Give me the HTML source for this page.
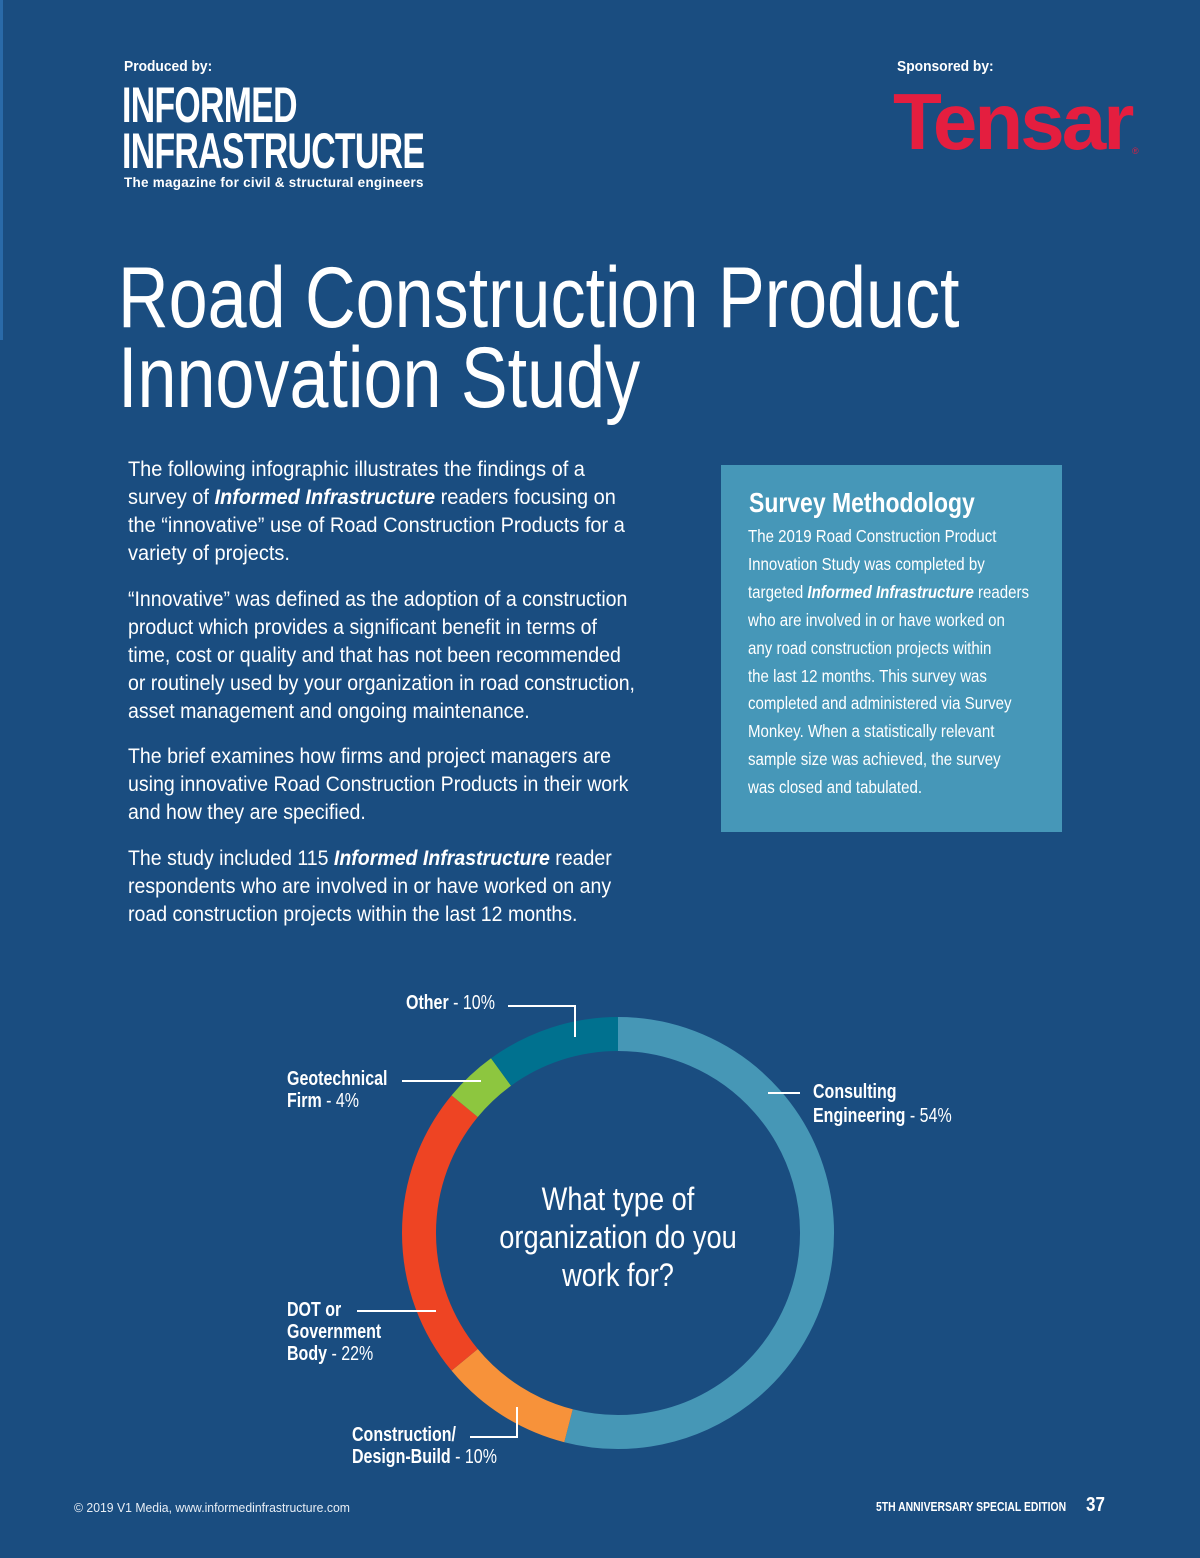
<!DOCTYPE html>
<html><head><meta charset="utf-8">
<style>
*{margin:0;padding:0;box-sizing:border-box}
body{width:1200px;height:1558px;background:#1a4d80;position:relative;overflow:hidden;color:#fff;font-family:"Liberation Sans Narrow","Liberation Sans",sans-serif}
.a{position:absolute;white-space:nowrap;transform-origin:left top}
.b{font-weight:bold}
.p{font-size:21px;line-height:28px;transform:scaleX(0.93)}
.lbl{font-size:20px;line-height:22px;transform:scaleX(0.8)}
.lbl b{font-weight:bold}
</style></head><body>
<div class="a" style="left:0;top:0;width:3px;height:340px;background:#2a6aa8"></div>
<div class="a b" style="left:124px;top:58px;font-size:15px;transform:scaleX(0.92)">Produced by:</div>
<div class="a b" style="left:122px;top:82px;font-size:50px;line-height:46px;letter-spacing:-1px;transform:scaleX(0.676)">INFORMED<br>INFRASTRUCTURE</div>
<div class="a b" style="left:124px;top:174px;font-size:14px;letter-spacing:0.3px;transform:scaleX(0.96)">The magazine for civil &amp; structural engineers</div>
<div class="a b" style="left:897px;top:58px;font-size:15px;transform:scaleX(0.92)">Sponsored by:</div>
<div class="a b" style="left:893px;top:80px;font-size:80px;line-height:84px;color:#e41e3f;letter-spacing:-3px;font-family:'Liberation Sans',sans-serif">Tensar</div>
<div class="a" style="left:1132px;top:146px;font-size:9px;color:#e41e3f">®</div>

<div class="a" style="left:118px;top:258px;font-size:86px;line-height:80px;transform:scaleX(0.815)">Road Construction Product<br>Innovation Study</div>

<div class="a p" style="left:128px;top:456px;transform:scaleX(0.95)">The following infographic illustrates the findings of a<br>survey of <b><i>Informed Infrastructure</i></b> readers focusing on<br>the “innovative” use of Road Construction Products for a<br>variety of projects.</div>
<div class="a p" style="left:128px;top:586px">“Innovative” was defined as the adoption of a construction<br>product which provides a significant benefit in terms of<br>time, cost or quality and that has not been recommended<br>or routinely used by your organization in road construction,<br>asset management and ongoing maintenance.</div>
<div class="a p" style="left:128px;top:743px">The brief examines how firms and project managers are<br>using innovative Road Construction Products in their work<br>and how they are specified.</div>
<div class="a p" style="left:128px;top:845px">The study included 115 <b><i>Informed Infrastructure</i></b> reader<br>respondents who are involved in or have worked on any<br>road construction projects within the last 12 months.</div>

<div class="a" style="left:721px;top:465px;width:341px;height:367px;background:#4697b8">
<div class="a b" style="left:28px;top:22px;font-size:28px;transform:scaleX(0.82)">Survey Methodology</div>
<div class="a" style="left:27px;top:58px;font-size:17.5px;line-height:27.9px;transform:scaleX(0.86)">The 2019 Road Construction Product<br>Innovation Study was completed by<br>targeted <b><i>Informed Infrastructure</i></b> readers<br>who are involved in or have worked on<br>any road construction projects within<br>the last 12 months. This survey was<br>completed and administered via Survey<br>Monkey. When a statistically relevant<br>sample size was achieved, the survey<br>was closed and tabulated.</div>
</div>

<svg class="a" style="left:0;top:0" width="1200" height="1558">
<g id="segs"></g>
<g stroke="#fff" stroke-width="2" fill="none">
<polyline points="508,1006 575,1006 575,1037"/>
<line x1="402" y1="1081" x2="481" y2="1081"/>
<line x1="768" y1="1093" x2="800" y2="1093"/>
<line x1="357" y1="1311" x2="436" y2="1311"/>
<polyline points="470,1437 517,1437 517,1407"/>
</g>
</svg>
<div class="a" style="left:418px;width:400px;top:1180px;transform:scaleX(0.85);transform-origin:center top;text-align:center;font-size:32px;line-height:38px">What type of<br>organization do you<br>work for?</div>

<div class="a lbl" style="left:406px;top:992px"><b>Other</b> - 10%</div>
<div class="a lbl" style="left:287px;top:1068px"><b>Geotechnical<br>Firm</b> - 4%</div>
<div class="a lbl" style="left:813px;top:1080px;line-height:24px"><b>Consulting<br>Engineering</b> - 54%</div>
<div class="a lbl" style="left:287px;top:1299px"><b>DOT</b> <b>or<br>Government<br>Body</b> - 22%</div>
<div class="a lbl" style="left:352px;top:1424px"><b>Construction/<br>Design-Build</b> - 10%</div>

<div class="a" style="left:74px;top:1500px;font-size:13px;color:#e8eef5;font-family:'Liberation Sans',sans-serif;transform:scaleX(0.94)">© 2019 V1 Media, www.informedinfrastructure.com</div>
<div class="a b" style="left:876px;top:1499px;font-size:13px;transform:scaleX(0.8)">5TH ANNIVERSARY SPECIAL EDITION</div>
<div class="a b" style="left:1086px;top:1494px;font-size:20px;transform:scaleX(0.85)">37</div>

<script>
const categories=["Consulting Engineering","Construction/Design-Build","DOT or Government Body","Geotechnical Firm","Other"];
const values=[54,10,22,4,10];
const colors=["#4697b6","#f7923a","#ee4423","#8dc63f","#00718f"];
const cx=618,cy=1233,r=199,sw=34;
const g=document.getElementById('segs');
const total=values.reduce((a,b)=>a+b,0);
function pt(f){const a=f*2*Math.PI-Math.PI/2;return [cx+r*Math.cos(a),cy+r*Math.sin(a)];}
let acc=0;
values.forEach((v,i)=>{
  const s=acc/total,e=(acc+v)/total;acc+=v;
  const p0=pt(s),p1=pt(e);
  const large=(e-s)>0.5?1:0;
  const path=document.createElementNS('http://www.w3.org/2000/svg','path');
  path.setAttribute('d',`M${p0[0]},${p0[1]} A${r},${r} 0 ${large} 1 ${p1[0]},${p1[1]}`);
  path.setAttribute('fill','none');
  path.setAttribute('stroke',colors[i]);
  path.setAttribute('stroke-width',sw);
  
  
  g.appendChild(path);
});
</script>
</body></html>
